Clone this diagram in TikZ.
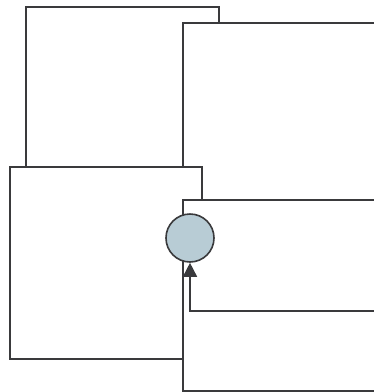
\documentclass[tikz,border=0pt]{standalone}
\usetikzlibrary{arrows.meta}
\definecolor{edge}{HTML}{3A3A3C}
\definecolor{jointfill}{HTML}{B8CCD5}
\begin{document}
\begin{tikzpicture}[x=1pt, y=-1pt, line width=1.6pt,
    panel/.style = {draw=edge, line width=1.6pt, fill=white, rectangle, anchor=north west, inner sep=0pt},
    joint/.style = {draw=edge, line width=1.6pt, fill=jointfill, circle, inner sep=0pt, minimum size=48pt}]
    \useasboundingbox (0,0) rectangle (374,392);
    \clip (0,0) rectangle (374,392);

    \node[panel, minimum width=193pt, minimum height=180pt] at (25,6) (topleft) {};
    \node[panel, minimum width=220pt, minimum height=200pt] at (182,22) (topright) {};
    \node[panel, minimum width=192pt, minimum height=192pt] at (9,166) (midleft) {};
    \node[panel, minimum width=220pt, minimum height=191pt] at (182,199) (lowright) {};

    \node[joint] at (190,238) (hub) {};
    \coordinate (feed) at (380,311);

    \draw[draw=edge, -{Triangle[width=14pt, length=14pt]}] (feed) -| (hub.south);
\end{tikzpicture}
\end{document}
